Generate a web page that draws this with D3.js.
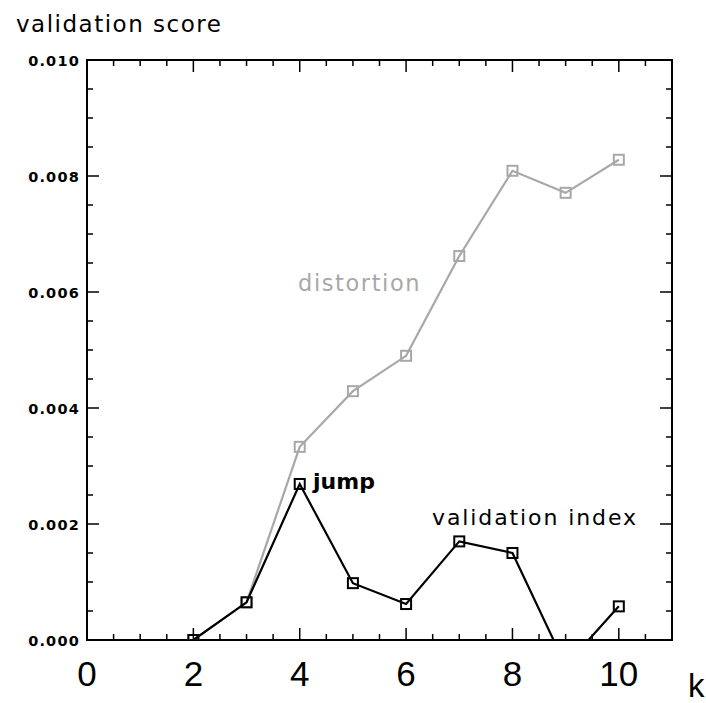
<!DOCTYPE html>
<html><head><meta charset="utf-8">
<script src="https://cdn.jsdelivr.net/npm/d3@7"></script>
<style>body{margin:0;background:#fff}svg{display:block}</style>
</head><body>
<script>
const kValues = [2, 3, 4, 5, 6, 7, 8, 9, 10];
const distortion = [0.0, 0.00065, 0.00333, 0.00429, 0.0049, 0.00662, 0.00809, 0.00771, 0.00828];
const validationIndex = [0.0, 0.00065, 0.00269, 0.00098, 0.00062, 0.0017, 0.0015, -0.00044, 0.00058];
const xTicks = [0, 2, 4, 6, 8, 10];
const yTicks = [0, 0.002, 0.004, 0.006, 0.008, 0.010];

const W = 706, H = 703;
const m = {l: 87, r: 34, t: 60, b: 63};
const svg = d3.select("body").append("svg").attr("width", W).attr("height", H);
const x = d3.scaleLinear().domain([0, 11]).range([m.l, W - m.r]);
const y = d3.scaleLinear().domain([0, 0.010]).range([H - m.b, m.t]);

svg.append("clipPath").attr("id", "clip").append("rect")
  .attr("x", x(0)).attr("y", y(0.010)).attr("width", x(11) - x(0)).attr("height", y(0) - y(0.010));

const minorX = d3.range(0, 11.01, 0.5).filter(v => v % 2 !== 0);
const minorY = d3.range(0, 0.01001, 0.0005).filter(v => Math.abs(v / 0.002 - Math.round(v / 0.002)) > 1e-6);

const g = svg.append("g");
g.append("rect").attr("x", x(0)).attr("y", y(0.010)).attr("width", x(11) - x(0)).attr("height", y(0) - y(0.010))
  .attr("fill", "none").attr("stroke", "#000").attr("stroke-width", 2);

function tickLines(vals, len, isX) {
  vals.forEach(v => {
    if (isX) {
      g.append("line").attr("x1", x(v)).attr("x2", x(v)).attr("y1", y(0)).attr("y2", y(0) - len).attr("stroke", "#000").attr("stroke-width", 1.5);
      g.append("line").attr("x1", x(v)).attr("x2", x(v)).attr("y1", y(0.010)).attr("y2", y(0.010) + len).attr("stroke", "#000").attr("stroke-width", 1.5);
    } else {
      g.append("line").attr("y1", y(v)).attr("y2", y(v)).attr("x1", x(0)).attr("x2", x(0) + len).attr("stroke", "#000").attr("stroke-width", 1.5);
      g.append("line").attr("y1", y(v)).attr("y2", y(v)).attr("x1", x(11)).attr("x2", x(11) - len).attr("stroke", "#000").attr("stroke-width", 1.5);
    }
  });
}
tickLines(xTicks, 12, true);
tickLines(minorX, 6, true);
tickLines(yTicks, 12, false);
tickLines(minorY, 6, false);

g.selectAll(".xl").data(xTicks).join("text")
  .attr("x", d => x(d)).attr("y", y(0) + 46)
  .attr("text-anchor", "middle").attr("font-family", "Liberation Sans").attr("font-size", 35)
  .text(d => d);
g.selectAll(".yl").data(yTicks).join("text")
  .attr("x", x(0) - 7).attr("y", d => y(d) + 6)
  .attr("text-anchor", "end").attr("font-family", "DejaVu Sans").attr("font-weight", "bold")
  .attr("font-size", 14.5).attr("letter-spacing", 1.2)
  .text(d => d.toFixed(3));

svg.append("text").attr("x", 16).attr("y", 32).attr("font-family", "DejaVu Sans").attr("font-size", 23)
  .attr("letter-spacing", 1.5).text("validation score");
svg.append("text").attr("x", 688).attr("y", 697).attr("font-family", "Liberation Sans").attr("font-size", 33).text("k");

const plot = svg.append("g").attr("clip-path", "url(#clip)");
const line = d3.line().x(d => x(d[0])).y(d => y(d[1]));
function series(vals, color) {
  const pts = kValues.map((k, i) => [k, vals[i]]);
  plot.append("path").datum(pts).attr("d", line).attr("fill", "none").attr("stroke", color).attr("stroke-width", 2.2);
  plot.selectAll(null).data(pts).join("rect")
    .attr("x", d => x(d[0]) - 5).attr("y", d => y(d[1]) - 5).attr("width", 10).attr("height", 10)
    .attr("fill", "none").attr("stroke", color).attr("stroke-width", 2);
}
series(distortion, "#a8a8a8");
series(validationIndex, "#000");

svg.append("text").attr("x", 298).attr("y", 291).attr("font-family", "DejaVu Sans").attr("font-size", 22.5)
  .attr("letter-spacing", 1.6).attr("fill", "#a8a8a8").text("distortion");
svg.append("text").attr("x", 313).attr("y", 489).attr("font-family", "DejaVu Sans").attr("font-weight", "bold")
  .attr("font-size", 22).text("jump");
svg.append("text").attr("x", 432).attr("y", 525).attr("font-family", "DejaVu Sans").attr("font-size", 22)
  .attr("letter-spacing", 1.9).text("validation index");
</script>
</body></html>
